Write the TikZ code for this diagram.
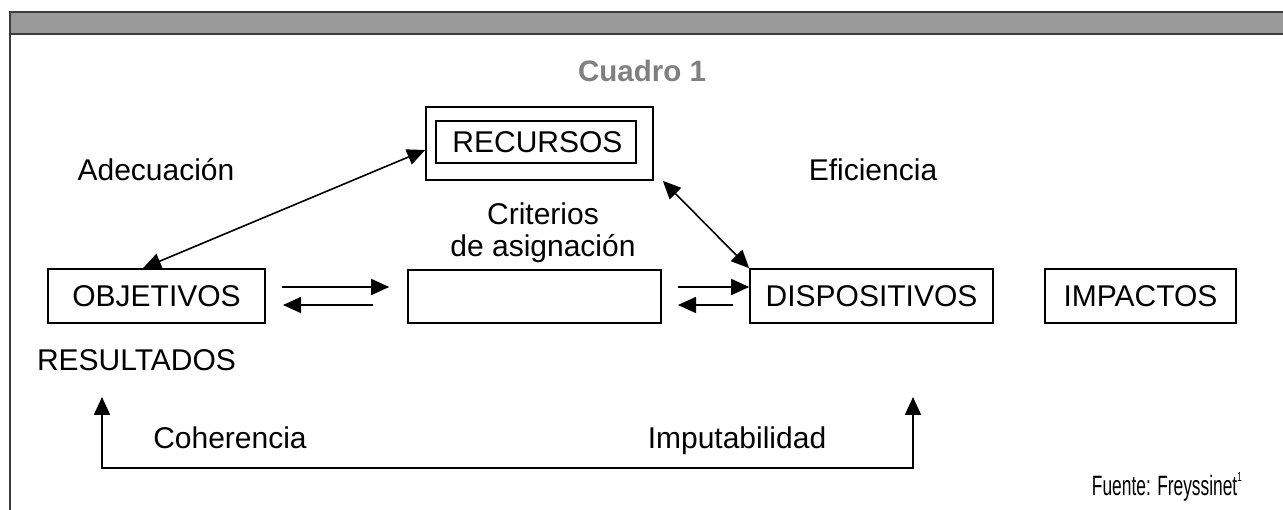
\documentclass[tikz,border=0pt]{standalone}
\usepackage{fontspec}
\setmainfont{Liberation Sans}
\usetikzlibrary{arrows.meta,calc}
\definecolor{barfill}{RGB}{153,153,153}
\definecolor{barline}{RGB}{60,60,60}
\definecolor{titlegray}{RGB}{128,128,128}
\begin{document}
\begin{tikzpicture}[x=1pt,y=-1pt,
  big/.style={font=\fontsize{30}{35}\selectfont},
  boxnode/.style={big,draw=black,line width=1.6pt,inner sep=0pt,text height=21.5pt,text depth=0pt},
  lbl/.style={big,inner sep=0pt,text height=21.5pt,text depth=0pt},
  arr/.style={line width=1.6pt,-{Triangle[length=18pt,width=16pt]}},
  darr/.style={line width=1.6pt,{Triangle[length=18pt,width=16pt]}-{Triangle[length=18pt,width=16pt]}}]
\useasboundingbox (0,0) rectangle (1283,510);
% header bar and frame
\fill[barfill] (9,12) rectangle (1283,34);
\draw[barline,line width=2pt] (9,12) -- (1283,12);
\draw[barline,line width=2pt] (9,34) -- (1283,34);
\draw[barline,line width=1.6pt] (10,12) -- (10,510);
% title
\node[lbl,font=\fontsize{29.5}{34}\selectfont\bfseries,text=titlegray] (title) at (642,71) {Cuadro 1};
% boxes
\node[boxnode,minimum width=227pt,minimum height=73pt] (recouter) at (539.5,143.5) {};
\node[boxnode,minimum width=200pt,minimum height=42pt] (rec) at (536,142) {\hspace{3pt}RECURSOS};
\node[boxnode,minimum width=217pt,minimum height=54pt] (obj) at (156.5,296) {OBJETIVOS};
\node[boxnode,minimum width=253pt,minimum height=53pt] (mid) at (534.5,296.5) {};
\node[boxnode,minimum width=243pt,minimum height=54pt] (disp) at (871.5,296) {DISPOSITIVOS};
\node[boxnode,minimum width=191pt,minimum height=54pt] (imp) at (1140.5,296) {IMPACTOS};
% labels
\node[lbl] (adec) at (156,170) {Adecuación};
\node[lbl] (efic) at (873,170) {Eficiencia};
\node[lbl] (crit1) at (543,214) {Criterios};
\node[lbl] (crit2) at (543,246) {de asignación};
\node[lbl] (res) at (136.5,360) {RESULTADOS};
\node[lbl] (coh) at (230,438) {Coherencia};
\node[lbl] (imput) at (737,438) {Imputabilidad};
\node[inner sep=0pt,anchor=south east,font=\fontsize{28}{32}\selectfont] (fuente) at (1242,502) {\scalebox{0.62}[1]{Fuente: Freyssinet}\raisebox{14pt}{\fontsize{13}{14}\selectfont\scalebox{0.62}[1]{1}}};
% connector coordinates
\coordinate (a1s) at ($(obj.north)+(-13.5,0)$);
\coordinate (a1e) at ($(recouter.west)+(0,6.5)$);
\coordinate (a2s) at ($(recouter.south east)+(9,0)$);
\coordinate (a2e) at (disp.north west);
\coordinate (h1s) at (282,287);
\coordinate (h1e) at ($(mid.west |- h1s)+(-18,0)$);
\coordinate (h2s) at (373,305);
\coordinate (h2e) at (283,305);
\coordinate (h3s) at (678,287);
\coordinate (h3e) at (disp.west |- h3s);
\coordinate (h4s) at (733,305);
\coordinate (h4e) at (678,305);
\coordinate (b1) at (102,397);
\coordinate (b2) at (102,468);
\coordinate (b3) at (913,468);
\coordinate (b4) at (913,397);
% connectors
\draw[darr] (a1s) -- (a1e);
\draw[darr] (a2s) -- (a2e);
\draw[arr] (h1s) -- (h1e);
\draw[arr] (h2s) -- (h2e);
\draw[arr] (h3s) -- (h3e);
\draw[arr] (h4s) -- (h4e);
\draw[darr,line width=2pt] (b1) -- (b2) -- (b3) -- (b4);
\end{tikzpicture}
\end{document}
